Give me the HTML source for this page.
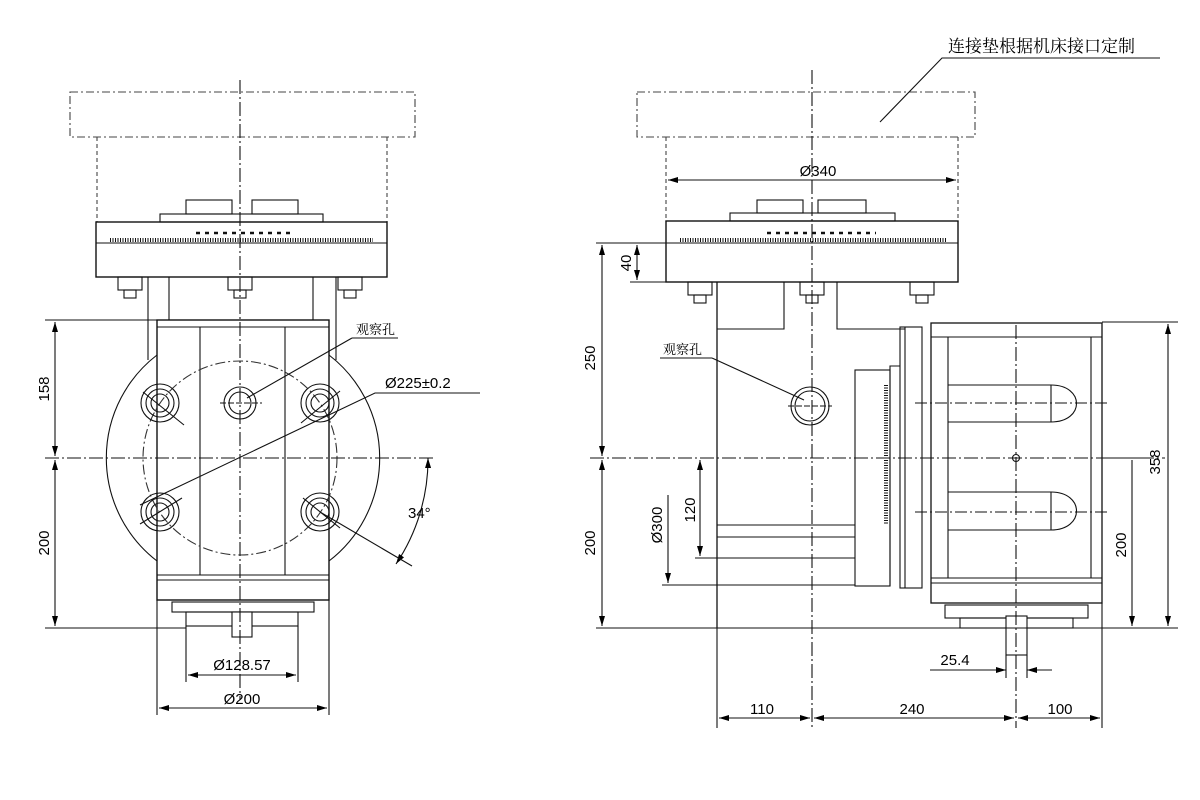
<!DOCTYPE html>
<html><head><meta charset="utf-8"><style>
html,body{margin:0;padding:0;background:#fff;}
svg{display:block;}
text{font-family:"Liberation Sans","Noto Sans CJK SC",sans-serif;fill:#000;}
.cn{font-family:"Noto Serif CJK SC","Noto Sans CJK SC",serif;}
</style></head><body>
<svg width="1200" height="800" viewBox="0 0 1200 800" xmlns="http://www.w3.org/2000/svg">
<defs>
<marker id="a" viewBox="0 0 10 6" refX="10" refY="3" markerWidth="11" markerHeight="6" orient="auto-start-reverse" markerUnits="userSpaceOnUse"><path d="M0,0 L10,3 L0,6z" fill="#000"/></marker>
</defs>
<g fill="none" stroke="#111" stroke-width="1.1">
<!-- ============ LEFT VIEW ============ -->
<rect x="70" y="92" width="345" height="45" stroke-dasharray="8,3,2,3" stroke="#444"/>
<line x1="97" y1="137" x2="97" y2="222" stroke-dasharray="4,3" stroke="#444"/>
<line x1="387" y1="137" x2="387" y2="222" stroke-dasharray="4,3" stroke="#444"/>
<rect x="186" y="200" width="46" height="14"/><rect x="252" y="200" width="46" height="14"/>
<rect x="160" y="214" width="163" height="8"/>
<rect x="96" y="222" width="291" height="55" stroke-width="1.4"/>
<line x1="96" y1="243" x2="387" y2="243"/>
<line x1="110" y1="240" x2="373" y2="240" stroke-width="4" stroke-dasharray="1,1.5"/>
<line x1="196" y1="233" x2="290" y2="233" stroke-width="2.5" stroke-dasharray="4,5"/>
<!-- bolts -->
<g id="bl">
<rect x="118" y="277" width="24" height="13"/><rect x="124" y="290" width="12" height="8"/>
</g>
<use href="#bl" x="110"/><use href="#bl" x="220"/>
<!-- supports -->
<line x1="148" y1="277" x2="148" y2="360"/><line x1="169" y1="277" x2="169" y2="320"/>
<line x1="313" y1="277" x2="313" y2="320"/><line x1="336" y1="277" x2="336" y2="360"/>
<path d="M157,355 A130,130 0 0 0 157,561"/>
<path d="M329,355 A130,130 0 0 1 329,561"/>
<!-- body -->
<rect x="157" y="320" width="172" height="280" fill="#fff" stroke-width="1.4"/>
<line x1="157" y1="327" x2="329" y2="327"/>
<line x1="200" y1="327" x2="200" y2="575"/><line x1="285" y1="327" x2="285" y2="575"/>
<line x1="157" y1="575" x2="329" y2="575"/><line x1="157" y1="580" x2="329" y2="580"/>
<circle cx="240" cy="458" r="97" stroke-dasharray="10,3,2,3" stroke="#333"/>
<g>
<circle cx="160" cy="403" r="19"/><circle cx="160" cy="403" r="14"/><circle cx="160" cy="403" r="9"/>
<circle cx="320" cy="403" r="19"/><circle cx="320" cy="403" r="14"/><circle cx="320" cy="403" r="9"/>
<circle cx="160" cy="512" r="19"/><circle cx="160" cy="512" r="14"/><circle cx="160" cy="512" r="9"/>
<circle cx="320" cy="512" r="19"/><circle cx="320" cy="512" r="14"/><circle cx="320" cy="512" r="9"/>
<circle cx="240" cy="403" r="16"/><circle cx="240" cy="403" r="11"/>
<line x1="143" y1="392" x2="184" y2="425"/><line x1="301" y1="423" x2="340" y2="391"/>
<line x1="140" y1="524" x2="182" y2="498"/><line x1="303" y1="498" x2="340" y2="528"/>
<line x1="220" y1="403" x2="262" y2="403" stroke-dasharray="6,2"/>
</g>
<rect x="172" y="602" width="142" height="10"/>
<rect x="186" y="612" width="112" height="14"/>
<rect x="232" y="612" width="20" height="25" fill="#fff"/>
<line x1="240" y1="80" x2="240" y2="700" stroke-dasharray="14,3,2,3"/>
<line x1="45" y1="458" x2="435" y2="458" stroke-dasharray="14,3,2,3"/>
<line x1="45" y1="320" x2="157" y2="320"/>
<line x1="45" y1="628" x2="186" y2="628"/>
<line x1="55" y1="322" x2="55" y2="456" marker-start="url(#a)" marker-end="url(#a)"/>
<line x1="55" y1="460" x2="55" y2="626" marker-start="url(#a)" marker-end="url(#a)"/>
<line x1="186" y1="626" x2="186" y2="682"/><line x1="298" y1="626" x2="298" y2="682"/>
<line x1="188" y1="675" x2="296" y2="675" marker-start="url(#a)" marker-end="url(#a)"/>
<line x1="157" y1="600" x2="157" y2="715"/><line x1="329" y1="600" x2="329" y2="715"/>
<line x1="159" y1="708" x2="327" y2="708" marker-start="url(#a)" marker-end="url(#a)"/>
<line x1="352" y1="338" x2="398" y2="338"/>
<line x1="352" y1="338" x2="247" y2="398"/>
<polyline points="140,505 375,393 480,393"/>
<path d="M428,458 A188,188 0 0 1 396,564" marker-start="url(#a)" marker-end="url(#a)"/>
<line x1="320" y1="512" x2="412" y2="566"/>

<!-- ============ RIGHT VIEW ============ -->
<rect x="637" y="92" width="338" height="45" stroke-dasharray="8,3,2,3" stroke="#444"/>
<line x1="666" y1="137" x2="666" y2="222" stroke-dasharray="4,3" stroke="#444"/>
<line x1="958" y1="137" x2="958" y2="222" stroke-dasharray="4,3" stroke="#444"/>
<line x1="668" y1="180" x2="956" y2="180" marker-start="url(#a)" marker-end="url(#a)"/>
<rect x="757" y="200" width="46" height="13"/><rect x="818" y="200" width="48" height="13"/>
<rect x="730" y="213" width="165" height="8"/>
<rect x="666" y="221" width="292" height="61" stroke-width="1.4"/>
<line x1="666" y1="243" x2="958" y2="243"/>
<line x1="680" y1="240" x2="946" y2="240" stroke-width="4" stroke-dasharray="1,1.5"/>
<line x1="767" y1="233" x2="876" y2="233" stroke-width="2.5" stroke-dasharray="4,5"/>
<use href="#bl" x="570" y="5"/><use href="#bl" x="682" y="5"/><use href="#bl" x="792" y="5"/>
<line x1="717" y1="282" x2="717" y2="628" stroke-width="1.3"/>
<polyline points="717,329 784,329 784,282"/>
<polyline points="837,282 837,329 905,329"/>
<circle cx="810" cy="406" r="19"/><circle cx="810" cy="406" r="15"/>
<line x1="788" y1="406" x2="832" y2="406" stroke-dasharray="6,2"/>
<line x1="717" y1="525" x2="855" y2="525"/><line x1="717" y1="537" x2="855" y2="537"/><line x1="717" y1="558" x2="855" y2="558"/>
<line x1="662" y1="585" x2="855" y2="585"/>
<rect x="855" y="370" width="35" height="216"/>
<polyline points="890,586 890,366 900,366"/>
<line x1="886" y1="385" x2="886" y2="525" stroke-width="4" stroke-dasharray="1,1.5"/>
<rect x="900" y="327" width="22" height="261"/><line x1="905" y1="327" x2="905" y2="588"/>
<rect x="931" y="323" width="171" height="280" stroke-width="1.3"/>
<line x1="931" y1="337" x2="1102" y2="337"/>
<line x1="931" y1="578" x2="1102" y2="578"/><line x1="931" y1="583" x2="1102" y2="583"/>
<line x1="948" y1="337" x2="948" y2="578"/><line x1="1091" y1="337" x2="1091" y2="578"/>
<path d="M948,385 L1051,385 C1085,385 1085,422 1051,422 L948,422"/><line x1="1051" y1="385" x2="1051" y2="422"/>
<path d="M948,492 L1051,492 C1085,492 1085,530 1051,530 L948,530"/><line x1="1051" y1="492" x2="1051" y2="530"/>
<line x1="915" y1="403" x2="1110" y2="403" stroke-dasharray="12,3,2,3"/>
<line x1="915" y1="512" x2="1110" y2="512" stroke-dasharray="12,3,2,3"/>
<circle cx="1016" cy="458" r="3.5"/>
<rect x="945" y="605" width="143" height="13"/>
<rect x="960" y="618" width="113" height="10"/>
<rect x="1006" y="616" width="21" height="39" fill="#fff"/>
<line x1="812" y1="70" x2="812" y2="728" stroke-dasharray="14,3,2,3"/>
<line x1="1016" y1="325" x2="1016" y2="728" stroke-dasharray="14,3,2,3"/>
<line x1="590" y1="458" x2="1165" y2="458" stroke-dasharray="14,3,2,3"/>
<line x1="596" y1="243" x2="666" y2="243"/><line x1="630" y1="282" x2="666" y2="282"/>
<line x1="637" y1="245" x2="637" y2="280" marker-start="url(#a)" marker-end="url(#a)"/>
<line x1="602" y1="245" x2="602" y2="456" marker-start="url(#a)" marker-end="url(#a)"/>
<line x1="602" y1="460" x2="602" y2="626" marker-start="url(#a)" marker-end="url(#a)"/>
<line x1="596" y1="628" x2="1178" y2="628"/>
<line x1="700" y1="460" x2="700" y2="556" marker-start="url(#a)" marker-end="url(#a)"/>
<line x1="695" y1="558" x2="717" y2="558"/>
<line x1="668" y1="495" x2="668" y2="583" marker-end="url(#a)"/>
<line x1="1102" y1="322" x2="1178" y2="322"/>
<line x1="1168" y1="324" x2="1168" y2="626" marker-start="url(#a)" marker-end="url(#a)"/>
<line x1="1100" y1="458" x2="1140" y2="458"/>
<line x1="1132" y1="460" x2="1132" y2="626" marker-end="url(#a)"/>
<line x1="717" y1="628" x2="717" y2="728"/><line x1="1102" y1="603" x2="1102" y2="728"/>
<line x1="719" y1="718" x2="810" y2="718" marker-start="url(#a)" marker-end="url(#a)"/>
<line x1="814" y1="718" x2="1014" y2="718" marker-start="url(#a)" marker-end="url(#a)"/>
<line x1="1018" y1="718" x2="1100" y2="718" marker-start="url(#a)" marker-end="url(#a)"/>
<line x1="1006" y1="655" x2="1006" y2="678"/><line x1="1027" y1="655" x2="1027" y2="678"/>
<line x1="930" y1="670" x2="1006" y2="670" marker-end="url(#a)"/>
<line x1="1052" y1="670" x2="1027" y2="670" marker-end="url(#a)"/>
<line x1="660" y1="358" x2="712" y2="358"/>
<line x1="712" y1="358" x2="804" y2="400"/>
<polyline points="880,122 942,58 1160,58"/>
</g>
<text x="45" y="389" font-size="15" transform="rotate(-90 45 389)" text-anchor="middle" dominant-baseline="middle">158</text>
<text x="45" y="543" font-size="15" transform="rotate(-90 45 543)" text-anchor="middle" dominant-baseline="middle">200</text>
<text x="242" y="670" font-size="15" text-anchor="middle">Ø128.57</text>
<text x="242" y="704" font-size="15" text-anchor="middle">Ø200</text>
<text x="356" y="334" font-size="13" class="cn">观察孔</text>
<text x="385" y="388" font-size="15">Ø225±0.2</text>
<text x="408" y="518" font-size="15">34°</text>

<text x="818" y="176" font-size="15" text-anchor="middle">Ø340</text>
<text x="627" y="263" font-size="15" transform="rotate(-90 627 263)" text-anchor="middle" dominant-baseline="middle">40</text>
<text x="591" y="358" font-size="15" transform="rotate(-90 591 358)" text-anchor="middle" dominant-baseline="middle">250</text>
<text x="591" y="543" font-size="15" transform="rotate(-90 591 543)" text-anchor="middle" dominant-baseline="middle">200</text>
<text x="691" y="510" font-size="15" transform="rotate(-90 691 510)" text-anchor="middle" dominant-baseline="middle">120</text>
<text x="658" y="525" font-size="15" transform="rotate(-90 658 525)" text-anchor="middle" dominant-baseline="middle">Ø300</text>
<text x="1156" y="462" font-size="15" transform="rotate(-90 1156 462)" text-anchor="middle" dominant-baseline="middle">358</text>
<text x="1122" y="545" font-size="15" transform="rotate(-90 1122 545)" text-anchor="middle" dominant-baseline="middle">200</text>
<text x="762" y="714" font-size="15" text-anchor="middle">110</text>
<text x="912" y="714" font-size="15" text-anchor="middle">240</text>
<text x="1060" y="714" font-size="15" text-anchor="middle">100</text>
<text x="955" y="665" font-size="15" text-anchor="middle">25.4</text>
<text x="663" y="354" font-size="13" class="cn">观察孔</text>
<text x="948" y="52" font-size="17" class="cn">连接垫根据机床接口定制</text>
</svg>
</body></html>
